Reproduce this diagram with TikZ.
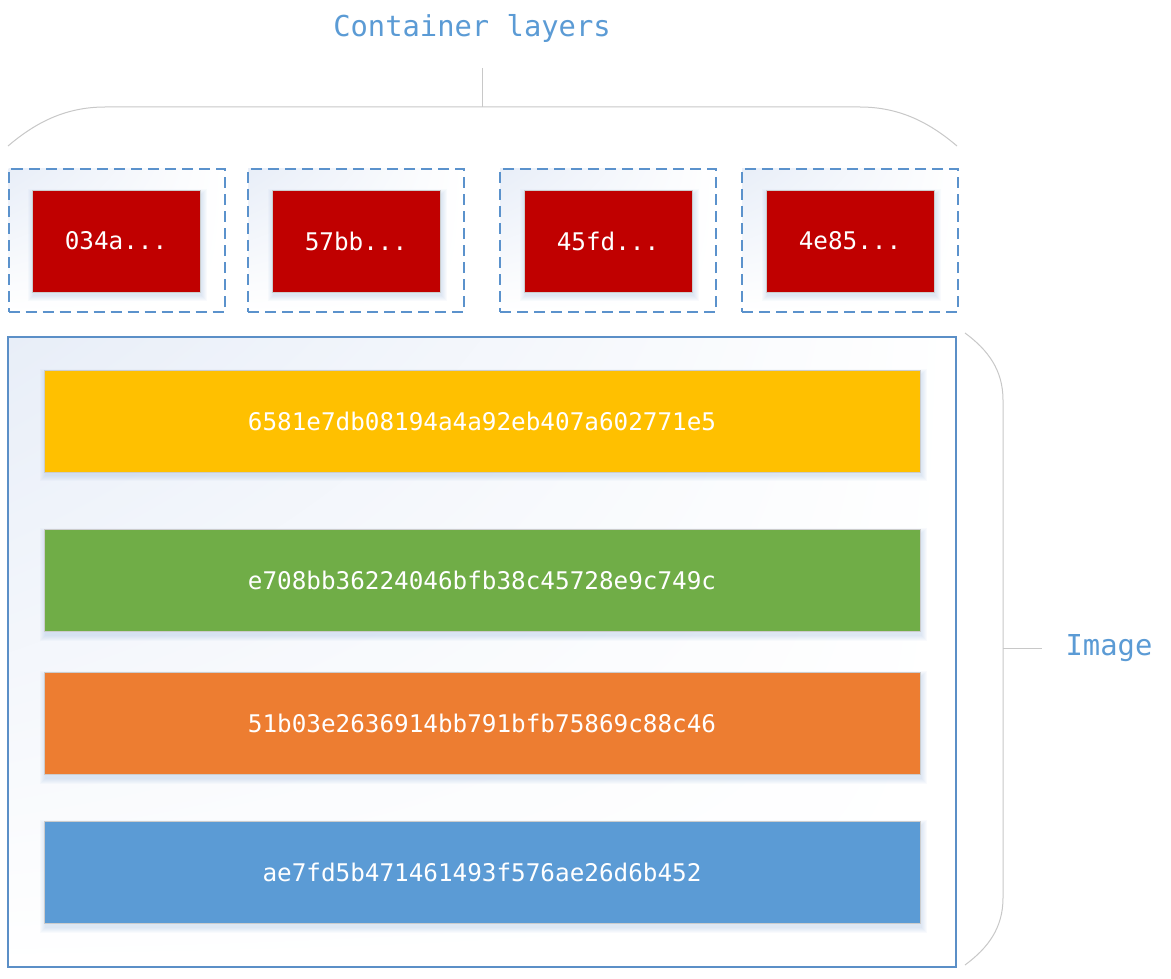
\documentclass[tikz,border=0pt]{standalone}
\usepackage{fontspec}
\usetikzlibrary{shadings}
\newfontfamily\monof{DejaVu Sans Mono}
\definecolor{titlecol}{HTML}{5B9BD5}
\definecolor{dashcol}{HTML}{5B92CC}
\definecolor{framecol}{HTML}{5B8FC7}
\definecolor{bracecol}{HTML}{C8C8C8}
\definecolor{glow}{HTML}{E8EEF8}
\definecolor{redc}{HTML}{C00000}
\definecolor{yellowc}{HTML}{FFC000}
\definecolor{greenc}{HTML}{70AD47}
\definecolor{orangec}{HTML}{ED7D31}
\definecolor{bluec}{HTML}{5B9BD5}
\definecolor{shadowc}{HTML}{8FB0E0}
\pgfdeclarelayer{back}
\pgfdeclarelayer{mid}
\pgfsetlayers{back,mid,main}
\begin{document}
\begin{tikzpicture}[x=1pt,y=-1pt,
  lbl/.style={text=titlecol, font=\monof\fontsize{28.8}{30}\selectfont, inner sep=0},
  layerbox/.style={draw=black!20, line width=0.8pt, text=white, inner sep=0,
    font=\monof\fontsize{24.3}{26}\selectfont},
  bar/.style={layerbox, minimum width=876pt, minimum height=102pt},
  cbox/.style={layerbox, fill=redc, minimum width=168pt, minimum height=102pt},
  glowfill/.style={shade, upper left=glow, upper right=white, lower left=white, lower right=white},
  dbox/.style={draw=dashcol, line width=2pt, dash pattern=on 11pt off 6pt,
    glowfill, minimum width=216pt, minimum height=143pt, inner sep=0},
  brace/.style={draw=bracecol, line width=1pt}
]
\useasboundingbox (0,0) rectangle (1171,979);

\begin{pgfonlayer}{back}
\fill[white] (0,0) rectangle (1171,979);
% image frame
\node (img) [draw=framecol, line width=2pt, glowfill, minimum width=948pt, minimum height=630pt,
  inner sep=0] at (482,652) {};
% container dashed boxes
\node (d1) [dbox] at (116.5,240.5) {};
\node (d2) [dbox] at (356,240.5) {};
\node (d3) [dbox] at (608,240.5) {};
\node (d4) [dbox] at (850,240.5) {};
\end{pgfonlayer}

% container layers
\node (c1) [cbox] at (116,241) {034a...};
\node (c2) [cbox] at (356,241) {57bb...};
\node (c3) [cbox] at (608,241) {45fd...};
\node (c4) [cbox] at (850,241) {4e85...};

% image layers
\node (l1) [bar, fill=yellowc] at (482,421) {6581e7db08194a4a92eb407a602771e5};
\node (l2) [bar, fill=greenc] at (482,580.5) {e708bb36224046bfb38c45728e9c749c};
\node (l3) [bar, fill=orangec] at (482,723.5) {51b03e2636914bb791bfb75869c88c46};
\node (l4) [bar, fill=bluec] at (482,872.5) {ae7fd5b471461493f576ae26d6b452};

% soft shadows
\begin{pgfonlayer}{mid}
\foreach \n in {c1,c2,c3,c4,l1,l2,l3,l4}{
  \foreach \i in {1,...,6}{
    \fill[shadowc, opacity=0.05]
      ([xshift=-\i pt+2pt, yshift=\i pt-5pt]\n.north west) rectangle
      ([xshift=\i pt+1pt, yshift=-\i pt-3pt]\n.south east);
  }
}
\end{pgfonlayer}

% braces and labels
\node (ctitle) [lbl] at (472,28) {Container layers};
\node (ilabel) [lbl] at (1109,648) {Image};

\coordinate (tt) at (482,68);
\coordinate (tb) at (482,107);
\draw[brace] (8,146) .. controls (35,123) and (65,107) .. (105,107)
  -- (860,107) .. controls (900,107) and (930,123) .. (957,146);
\draw[brace] (tt) -- (tb);

\coordinate (rl) at (1003,648);
\coordinate (rr) at (1042,648);
\draw[brace] (965,333) .. controls (988,350) and (1003,370) .. (1003,400)
  -- (1003,898) .. controls (1003,928) and (988,948) .. (965,965);
\draw[brace] (rl) -- (rr);
\end{tikzpicture}
\end{document}
